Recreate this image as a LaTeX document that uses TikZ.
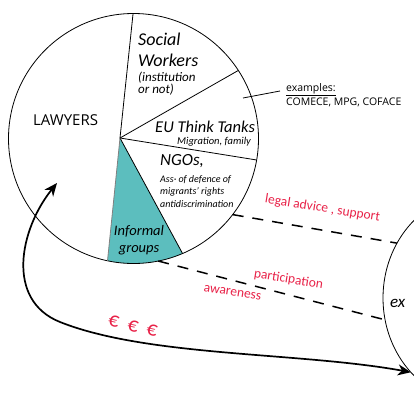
\documentclass[tikz,border=0pt]{standalone}
\usepackage{fontspec}
\setmainfont{Carlito}
\newfontfamily\labelfont{Open Sans}
\usetikzlibrary{arrows.meta,calc}
\definecolor{informalteal}{RGB}{92,190,190}
\definecolor{flowred}{RGB}{232,34,72}

\begin{document}
\begin{tikzpicture}[x=1pt,y=-1pt,>={Stealth[length=13pt,width=11pt,inset=4pt]},
	slice/.style={line width=0.8pt},
	hand/.style={font=\itshape,inner sep=0pt,anchor=base west,align=left},
	flow/.style={text=flowred,inner sep=0pt,font=\fontsize{13.5}{14}\selectfont,rotate=-9},
	link/.style={line width=1.5pt,dash pattern=on 11pt off 9pt},
	money/.style={line width=1.7pt}]
	\useasboundingbox (0,0) rectangle (414,402);
	\clip (0,0) rectangle (414,402);
	
	\coordinate (o) at (133.5,138.5);
	\coordinate (hub) at (120,138);
	\coordinate (cutsocial) at ($(o)+(-90.2:125)$);
	\coordinate (cuteu) at ($(o)+(-33:125)$);
	\coordinate (cutngo) at ($(o)+(9.9:125)$);
	\coordinate (cutinf) at ($(o)+(66.9:125)$);
	\coordinate (cutlaw) at ($(o)+(102:125)$);
	\coordinate (rc) at (478,298);
	
	\fill[informalteal] (hub) -- (cutlaw) arc[start angle=102,end angle=66.9,radius=125] -- cycle;
	\draw[slice] (o) circle[radius=125];
	\draw[slice] (hub) -- (cutsocial);
	\draw[slice] (hub) -- (cuteu);
	\draw[slice] (hub) -- (cutngo);
	\draw[slice] (hub) -- (cutinf);
	\draw[slice,gray] (hub) -- (cutlaw);
	\draw[slice] (rc) ellipse[x radius=95,y radius=105];
	
	\node[font=\labelfont\fontsize{15}{15}\selectfont,anchor=base west,inner sep=0pt] (lawyers) at (33,125) {LAWYERS};
	\node[hand,font=\itshape\fontsize{18}{21}\selectfont] (social) at (138,66) {Social\\Workers};
	\node[hand,font=\itshape\fontsize{13}{12}\selectfont] (socialnote) at (138,93) {(institution\\or not)};
	\node[hand,font=\itshape\fontsize{16.5}{17}\selectfont] (eu) at (155,132) {EU Think Tanks};
	\node[hand,font=\itshape\fontsize{10.5}{11}\selectfont] (eunote) at (177,144) {Migration, family};
	\node[hand,font=\itshape\fontsize{17}{17}\selectfont] (ngo) at (160,165) {NGOs,};
	\node[hand,font=\itshape\fontsize{10}{12.5}\selectfont] (ngonote) at (160,207) {Ass· of defence of\\migrants' rights\\antidiscrimination};
	\node[hand,font=\itshape\fontsize{14.5}{17}\selectfont,align=center,anchor=base] (informal) at (139,252) {Informal\\groups};
	\node[hand,font=\itshape\fontsize{17}{17}\selectfont] (ex) at (390,307) {ex};
	
	\node[font=\labelfont\fontsize{10.5}{14}\selectfont,anchor=base west,inner sep=0pt,align=left] (examples) at (286,105) {\underline{examples:}\\COMECE, MPG, COFACE};
	\coordinate (exleft) at (243,98);
	\coordinate (exright) at (280,91);
	\draw[slice] (exleft) -- (exright);
	
	\coordinate (legalstart) at ($(o)+(37.5:125)$);
	\coordinate (legalend) at ($(rc)+(211.5:95 and 105)$);
	\coordinate (partstart) at ($(o)+(78.6:125)$);
	\coordinate (partend) at ($(rc)+(168:95 and 105)$);
	\draw[link] (legalstart) -- (legalend);
	\draw[link] (partstart) -- (partend);
	\node[flow,anchor=base] (legal) at (322,212) {legal advice , support};
	\node[flow,anchor=base] (part) at (288,283) {participation};
	\node[flow,anchor=base] (aware) at (232,296) {awareness};
	\node[text=flowred,font=\fontsize{21}{21}\selectfont,rotate=-13,inner sep=0pt] (euro) at (133,326) {€\hspace{9pt}€\hspace{9pt}€};
	
	\coordinate (lawtip) at (57,183);
	\coordinate (exptip) at ($(rc)+(135:95 and 105)$);
	\draw[<->,money] (lawtip) .. controls (20,229) and (5,300) .. (60,322)
		.. controls (148,357) and (300,352) .. (exptip);
\end{tikzpicture}
\end{document}
